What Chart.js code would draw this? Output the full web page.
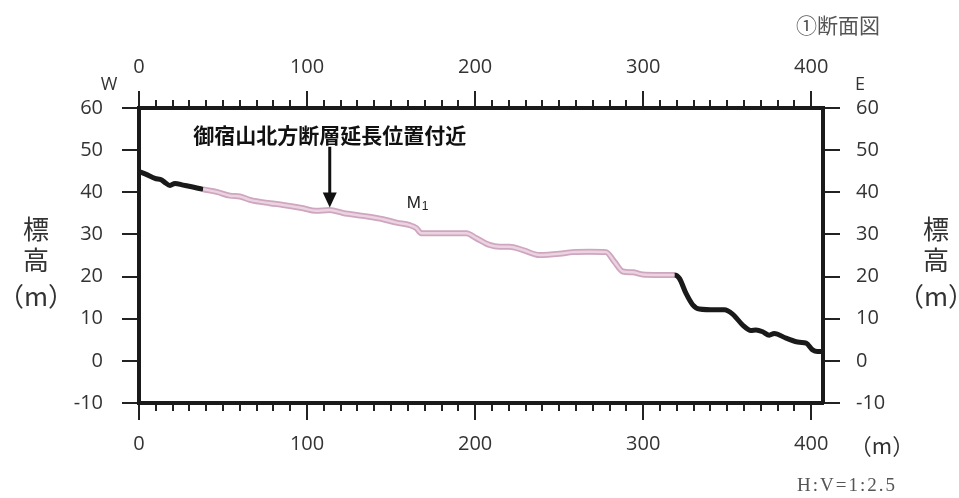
<!DOCTYPE html>
<html>
<head>
<meta charset="utf-8">
<script src="https://cdn.jsdelivr.net/npm/chart.js@4"></script>
<style>
  body { margin: 0; background: #fff; }
  #wrap { width: 959px; height: 498px; position: relative; }
</style>
</head>
<body>
<div id="wrap"><canvas id="profileChart"></canvas></div>
<script>
// Profile: distance from W end (m) and elevation (m)
const distances = [0, 4, 9.5, 13.5, 15.5, 18.4, 21.4, 26.3, 31.3, 38.2,
  46.2, 54.1, 60, 66, 77.9, 85.8, 97.7, 105, 113.5, 121.4,
  133.3, 145.2, 153.2, 161.1, 165, 168, 177, 194.8, 200.7, 208.6,
  214.6, 220.5, 228.4, 238.3, 250.2, 258.1, 268, 277.9, 282.9, 287.9,
  293.8, 299.7, 309.7, 318.6, 321.5, 325.5, 329.5, 333.4, 343.3, 348.3,
  353.2, 359.2, 364.1, 367.1, 371.1, 375, 378, 385, 393, 397,
  400.8, 403.7, 407];
const elevations = [44.9, 44.3, 43.3, 42.9, 42.3, 41.6, 42.1, 41.7, 41.3, 40.7,
  40.1, 39.2, 39.0, 38.2, 37.4, 37.0, 36.2, 35.6, 35.8, 35.1,
  34.4, 33.6, 32.8, 32.2, 31.5, 30.3, 30.3, 30.3, 29.1, 27.5,
  27.1, 27.1, 26.3, 25.1, 25.4, 25.8, 25.9, 25.8, 23.5, 21.2,
  21.0, 20.5, 20.4, 20.4, 19.6, 16.0, 13.3, 12.3, 12.1, 12.1,
  11.1, 8.5, 7.2, 7.3, 6.9, 6.1, 6.5, 5.4, 4.4, 4.2,
  2.6, 2.2, 2.2];

// M1 terrace surface (pink part of the profile)
const m1Range = [38.2, 318.6];
const m1Label = [165.8, 37.5];

// fault extension position (arrow)
const faultX = 113.5;
const faultText = '御宿山北方断層延長位置付近';

const xMin = 0, xMax = 407;
const yMin = -10, yMax = 60;
const xMajorTicks = [0, 100, 200, 300, 400];
const xMinorStep = 10, yStep = 10;

const profile = distances.map((d, i) => ({ x: d, y: elevations[i] }));
const m1Profile = profile.filter(p => p.x >= m1Range[0] && p.x <= m1Range[1]);

const inM1 = c => c.p0.parsed.x >= m1Range[0] && c.p1.parsed.x <= m1Range[1];

const tickFont = { family: '"Open Sans", "Noto Sans", sans-serif', size: 20 };
const jpFont = '"Noto Sans CJK JP", sans-serif';

const labelsPlugin = {
  id: 'sectionLabels',
  afterDraw(chart) {
    const ctx = chart.ctx;
    const xs = chart.scales.x;
    const ys = chart.scales.y;
    const area = chart.chartArea;
    ctx.save();
    ctx.textAlign = 'center';
    ctx.textBaseline = 'middle';

    // W / E
    ctx.fillStyle = '#333';
    ctx.font = '18px "Open Sans", sans-serif';
    ctx.fillText('W', area.left - 30, 85);
    ctx.fillText('E', area.right + 37, 85);

    // title and scale note
    ctx.fillStyle = '#555';
    ctx.font = '21px ' + jpFont;
    ctx.fillText('①断面図', 838, 25);
    ctx.font = '19px "Liberation Serif", serif';
    ctx.letterSpacing = '2px';
    ctx.fillText('H:V=1:2.5', 847, 486);
    ctx.letterSpacing = '0px';

    // axis units
    ctx.fillStyle = '#333';
    ctx.font = '22px ' + jpFont;
    ctx.fillText('（m）', 882, 446);
    ctx.font = '26px ' + jpFont;
    [['標', 229], ['高', 260], ['（m）', 296]].forEach(t => {
      ctx.fillText(t[0], 36, t[1]);
      ctx.fillText(t[0], 936, t[1]);
    });

    // fault annotation
    const ax = xs.getPixelForValue(faultX);
    ctx.fillStyle = '#111';
    ctx.font = 'bold 21px ' + jpFont;
    ctx.fillText(faultText, ax, ys.getPixelForValue(53.6));
    const yTop = ys.getPixelForValue(50.8);
    const yTip = ys.getPixelForValue(36.4);
    ctx.strokeStyle = '#111';
    ctx.lineWidth = 3;
    ctx.beginPath();
    ctx.moveTo(ax, yTop);
    ctx.lineTo(ax, yTip - 10);
    ctx.stroke();
    ctx.beginPath();
    ctx.moveTo(ax - 7, yTip - 15);
    ctx.lineTo(ax + 7, yTip - 15);
    ctx.lineTo(ax, yTip);
    ctx.closePath();
    ctx.fill();

    // M1
    const mx = xs.getPixelForValue(m1Label[0]);
    const my = ys.getPixelForValue(m1Label[1]);
    ctx.fillStyle = '#222';
    ctx.textAlign = 'left';
    ctx.font = '17px "Liberation Sans", Arial, sans-serif';
    ctx.fillText('M', mx - 11, my);
    ctx.font = '12px "Liberation Sans", Arial, sans-serif';
    ctx.fillText('1', mx + 4, my + 4);
    ctx.restore();
  }
};

const gridStyle = (len) => ({
  drawOnChartArea: false,
  drawTicks: true,
  tickLength: len,
  lineWidth: 2,
  color: '#222'
});

// fixed major ticks at every 100 m
const setMajorTicks = s => { s.ticks = xMajorTicks.map(v => ({ value: v })); };

new Chart(document.getElementById('profileChart'), {
  type: 'line',
  data: {
    datasets: [{
      label: 'M1 inner',
      data: m1Profile,
      borderColor: '#ecd3e1',
      borderWidth: 2.5,
      pointRadius: 0,
      cubicInterpolationMode: 'monotone',
      order: 0
    }, {
      label: 'profile',
      data: profile,
      borderColor: '#1a1a1a',
      borderWidth: 5,
      pointRadius: 0,
      cubicInterpolationMode: 'monotone',
      borderJoinStyle: 'round',
      segment: {
        borderColor: c => inM1(c) ? '#cfa6bf' : '#1a1a1a',
        borderWidth: c => inM1(c) ? 6 : 5
      },
      order: 1
    }]
  },
  options: {
    responsive: true,
    maintainAspectRatio: false,
    animation: false,
    layout: { padding: 0 },
    plugins: {
      legend: { display: false },
      tooltip: { enabled: false }
    },
    scales: {
      x: {
        type: 'linear', position: 'bottom', weight: 1,
        min: xMin, max: xMax,
        afterBuildTicks: setMajorTicks,
        ticks: { padding: 12, color: '#333', font: tickFont, maxRotation: 0, autoSkip: false },
        grid: gridStyle(17),
        border: { width: 4, color: '#1a1a1a' },
        afterFit(s) { s.height = 95; }
      },
      xMinor: {
        type: 'linear', position: 'bottom', weight: 0,
        min: xMin, max: xMax,
        ticks: { stepSize: xMinorStep, includeBounds: false, display: false },
        grid: gridStyle(8),
        border: { display: false },
        afterFit(s) { s.height = 0; }
      },
      xTop: {
        type: 'linear', position: 'top', weight: 1,
        min: xMin, max: xMax,
        afterBuildTicks: setMajorTicks,
        ticks: { padding: 12, color: '#333', font: tickFont, maxRotation: 0, autoSkip: false },
        grid: gridStyle(17),
        border: { width: 4, color: '#1a1a1a' },
        afterFit(s) { s.height = 108; }
      },
      xTopMinor: {
        type: 'linear', position: 'top', weight: 0,
        min: xMin, max: xMax,
        ticks: { stepSize: xMinorStep, includeBounds: false, display: false },
        grid: gridStyle(8),
        border: { display: false },
        afterFit(s) { s.height = 0; }
      },
      y: {
        type: 'linear', position: 'left',
        min: yMin, max: yMax,
        ticks: { stepSize: yStep, padding: 19, color: '#333', font: tickFont },
        grid: gridStyle(17),
        border: { width: 4, color: '#1a1a1a' },
        afterFit(s) { s.width = 139; }
      },
      yRight: {
        type: 'linear', position: 'right',
        min: yMin, max: yMax,
        ticks: { stepSize: yStep, padding: 16, color: '#333', font: tickFont },
        grid: gridStyle(17),
        border: { width: 4, color: '#1a1a1a' },
        afterFit(s) { s.width = 136; }
      }
    }
  },
  plugins: [labelsPlugin]
});
</script>
</body>
</html>
